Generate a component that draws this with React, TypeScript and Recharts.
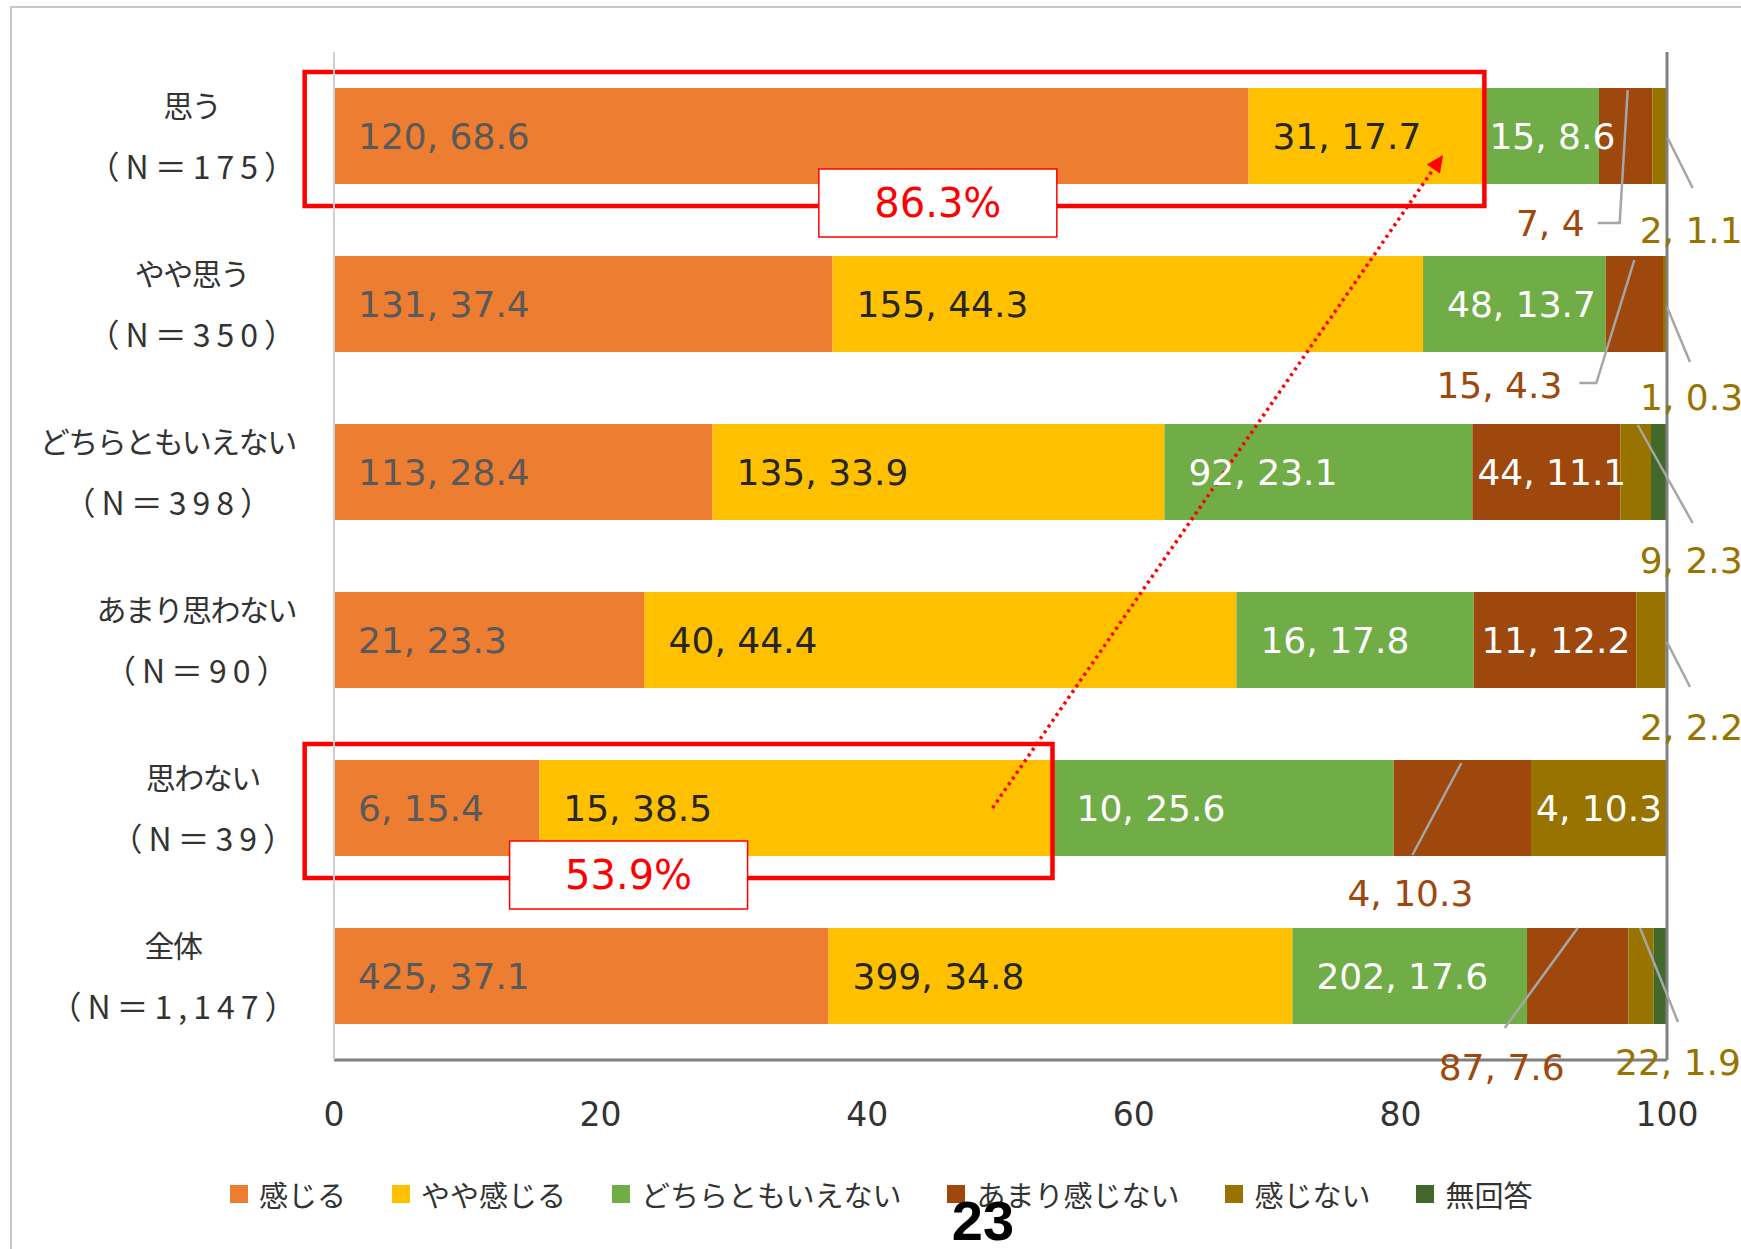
import React from 'react';
import { BarChart, Bar, XAxis, YAxis, LabelList, ReferenceLine, Legend } from 'recharts';

// ---------- data ----------
const categories = ['思う', 'やや思う', 'どちらともいえない', 'あまり思わない', '思わない', '全体'];
const sampleSizes = ['175', '350', '398', '90', '39', '1,147'];
const seriesNames = ['感じる', 'やや感じる', 'どちらともいえない', 'あまり感じない', '感じない', '無回答'];

const pctKanjiru = [68.6, 37.4, 28.4, 23.3, 15.4, 37.1];
const cntKanjiru = [120, 131, 113, 21, 6, 425];
const pctYaya = [17.7, 44.3, 33.9, 44.4, 38.5, 34.8];
const cntYaya = [31, 155, 135, 40, 15, 399];
const pctDochira = [8.6, 13.7, 23.1, 17.8, 25.6, 17.6];
const cntDochira = [15, 48, 92, 16, 10, 202];
const pctAmari = [4, 4.3, 11.1, 12.2, 10.3, 7.6];
const cntAmari = [7, 15, 44, 11, 4, 87];
const pctNai = [1.1, 0.3, 2.3, 2.2, 10.3, 1.9];
const cntNai = [2, 1, 9, 2, 4, 22];
const pctMukaito = [0, 0, 1.2, 0, 0, 1.0];
const cntMukaito = [0, 0, 5, 0, 0, 12];

const xTicks = [0, 20, 40, 60, 80, 100];

// highlighted groups (share of 感じる + やや感じる)
const highlightCats = ['思う', '思わない'];
const highlightTotals = [86.3, 53.9];
const highlightLabels = ['86.3%', '53.9%'];

// ---------- styles / layout ----------
const seriesColors = ['#ED7D31', '#FFC000', '#70AD47', '#9E480E', '#997300', '#43682B'];
const insideTextColors = ['#595959', '#262626', '#FFFFFF', '#FFFFFF', '#FFFFFF', '#FFFFFF'];
const NUM_FONT = '"DejaVu Sans", "Noto Sans CJK JP", sans-serif';
const JP_FONT = '"Noto Sans CJK JP", "DejaVu Sans", sans-serif';
const LABEL_FS = 36;

// outside (leader-line) label layout, offsets relative to the segment centre
const outsideLabels: Record<string, { dx: number; dy: number; anchor: string; line: number[][] }> = {
  '3-0': { dx: -41, dy: 87, anchor: 'end', line: [[2, -46], [-6, 87], [-28, 87]] },
  '4-0': { dx: -20, dy: 94, anchor: 'start', line: [[8, 2], [33, 52]] },
  '3-1': { dx: -72, dy: 81, anchor: 'end', line: [[0, -44], [-38, 79], [-55, 79]] },
  '4-1': { dx: -25, dy: 93, anchor: 'start', line: [[2, 3], [25, 58]] },
  '4-2': { dx: 4, dy: 88, anchor: 'start', line: [[2, -47], [57, 51]] },
  '4-3': { dx: -11, dy: 87, anchor: 'start', line: [[16, 2], [39, 47]] },
  '3-4': { dx: -52, dy: 85, anchor: 'middle', line: [[-1, -45], [-50, 47]] },
  '3-5': { dx: -76, dy: 91, anchor: 'middle', line: [[0, -48], [-73, 52]] },
  '4-5': { dx: -26, dy: 86, anchor: 'start', line: [[-1, -48], [37, 46]] },
};

const pctSeries = [pctKanjiru, pctYaya, pctDochira, pctAmari, pctNai, pctMukaito];
const cntSeries = [cntKanjiru, cntYaya, cntDochira, cntAmari, cntNai, cntMukaito];

const data = categories.map((name, i) => {
  const row: any = { name };
  pctSeries.forEach((arr, s) => {
    row['s' + s] = arr[i];
  });
  return row;
});

const estWidth = (str: string, fs: number, digit = 0.636, n = 0.748, spacing = 0) =>
  [...str].reduce((w, ch) => {
    const c = ch.charCodeAt(0);
    if (c >= 0x2e80) return w + fs + spacing;
    if (ch >= '0' && ch <= '9') return w + digit * fs + spacing;
    if (ch === 'N') return w + n * fs + spacing;
    return w + 0.3 * fs + spacing;
  }, 0);

const makeLabel = (s: number) => (props: any) => {
  const vb = props.viewBox || props;
  const x = Number(vb.x);
  const y = Number(vb.y);
  const width = Number(vb.width);
  const height = Number(vb.height);
  const i = props.index;
  if (i == null) return null;
  const pct = pctSeries[s][i];
  const cnt = cntSeries[s][i];
  if (!pct) return null;
  const text = `${cnt}, ${pct}`;
  const cx = x + width / 2;
  const cy = y + height / 2;
  const out = outsideLabels[`${s}-${i}`];
  if (out) {
    const pts = out.line.map(([dx, dy]) => `${cx + dx},${cy + dy}`).join(' ');
    return (
      <g>
        <polyline points={pts} fill="none" stroke="#A6A6A6" strokeWidth={2.5} />
        <text
          x={cx + out.dx}
          y={cy + out.dy}
          dy="0.36em"
          textAnchor={out.anchor as any}
          fill={seriesColors[s]}
          fontSize={LABEL_FS}
          fontFamily={NUM_FONT}
        >
          {text}
        </text>
      </g>
    );
  }
  const tw = estWidth(text, LABEL_FS);
  const pad = Math.min(24, Math.max(5, width - tw - 8));
  return (
    <text
      x={x + pad}
      y={cy}
      dy="0.36em"
      textAnchor="start"
      fill={insideTextColors[s]}
      fontSize={LABEL_FS}
      fontFamily={NUM_FONT}
    >
      {text}
    </text>
  );
};

const YTick = (props: any) => {
  const { x, y, payload } = props;
  const i = categories.indexOf(payload.value);
  const l1 = payload.value;
  const l2 = `（N＝${sampleSizes[i]}）`;
  const w1 = estWidth(l1, 30, 0.6, 0.7, -1.5);
  const w2 = estWidth(l2, 32, 0.5, 0.7, 6) - 24;
  const w = Math.max(w1, w2);
  const rightGap = w1 > w2 ? 36 : 48;
  const cx = x - rightGap - w / 2;
  return (
    <g>
      <text
        x={cx}
        y={y - 30}
        dy="0.36em"
        textAnchor="middle"
        fill="#333333"
        fontSize={30}
        letterSpacing={-1.5}
        fontFamily={JP_FONT}
      >
        {l1}
      </text>
      <text
        x={cx + 3}
        y={y + 31}
        dy="0.36em"
        textAnchor="middle"
        fill="#333333"
        fontSize={32}
        letterSpacing={6}
        fontFamily={JP_FONT}
      >
        {l2}
      </text>
    </g>
  );
};

const XTick = (props: any) => {
  const { x, y, payload } = props;
  return (
    <text x={x} y={y + 52} dy="0.36em" textAnchor="middle" fill="#333333" fontSize={33} fontFamily={NUM_FONT}>
      {payload.value}
    </text>
  );
};

const LegendContent = () => (
  <div style={{ display: 'flex', alignItems: 'center', whiteSpace: 'nowrap' }}>
    {seriesNames.map((n, i) => (
      <div key={n} style={{ display: 'flex', alignItems: 'center', marginRight: 46 }}>
        <div style={{ width: 18, height: 18, background: seriesColors[i], marginRight: 11 }} />
        <span style={{ fontFamily: JP_FONT, fontSize: 29, color: '#333333', lineHeight: '42px' }}>{n}</span>
      </div>
    ))}
  </div>
);

const HighlightRect = (p: any) => (
  <rect
    x={p.x1}
    y={p.y1 - 64}
    width={p.x2 - p.x1}
    height={134}
    fill="none"
    stroke="#FF0000"
    strokeWidth={4.5}
  />
);

const makeHighlightBox = (label: string) => (p: any) => (
  <g>
    <rect x={p.x1 - 119} y={p.y1 + 33} width={238} height={68} fill="#FFFFFF" stroke="#FF0000" strokeWidth={1.5} />
    <text x={p.x1} y={p.y1 + 67} dy="0.36em" textAnchor="middle" fill="#FF0000" fontSize={40} fontFamily={NUM_FONT}>
      {label}
    </text>
  </g>
);

const ArrowShape = (p: any) => {
  const x1 = p.x1;
  const y1 = p.y1;
  const x2 = p.x2;
  const y2 = p.y2 + 19;
  const ang = Math.atan2(y2 - y1, x2 - x1);
  const hl = 17;
  const hw = 8;
  const bx = x2 - hl * Math.cos(ang);
  const by = y2 - hl * Math.sin(ang);
  const nx = -Math.sin(ang);
  const ny = Math.cos(ang);
  return (
    <g>
      <line x1={x1} y1={y1} x2={bx} y2={by} stroke="#FF0000" strokeWidth={3.5} strokeDasharray="3 4" />
      <polygon
        points={`${x2},${y2} ${bx + nx * hw},${by + ny * hw} ${bx - nx * hw},${by - ny * hw}`}
        fill="#FF0000"
      />
    </g>
  );
};

// annotation anchor values (x-axis units)
const highlightLeft = -2.2;
const highlightBoxCenters = [45.3, 22.1];
const arrowFrom = 49.4;
const arrowTo = 83.2;

export default function App() {
  return (
    <div style={{ position: 'relative', width: 1741, height: 1249, overflow: 'hidden', background: '#fff' }}>
      <style>{`body{margin:0;}`}</style>
      <div
        style={{
          position: 'absolute',
          left: 10,
          top: 6,
          width: 1800,
          height: 1300,
          border: '2px solid #C8C8C8',
          boxSizing: 'border-box',
        }}
      />
      <div style={{ position: 'absolute', left: 0, top: 0 }}>
        <BarChart
          width={1741}
          height={1249}
          data={data}
          layout="vertical"
          margin={{ top: 52, right: 74, bottom: 109, left: 0 }}
          barSize={96}
        >
          <XAxis
            type="number"
            domain={[0, 100]}
            ticks={xTicks}
            allowDataOverflow
            axisLine={{ stroke: '#808080', strokeWidth: 3 }}
            tickLine={false}
            tickSize={0}
            tick={<XTick />}
            height={80}
          />
          <XAxis
            xAxisId="top"
            orientation="top"
            type="number"
            domain={[0, 100]}
            allowDataOverflow
            axisLine={{ stroke: '#808080', strokeWidth: 2.5 }}
            tickLine={false}
            tick={false}
            height={0}
          />
          <YAxis
            type="category"
            dataKey="name"
            width={334}
            axisLine={{ stroke: '#D0D0D0', strokeWidth: 2 }}
            tickLine={false}
            tickSize={0}
            tick={<YTick />}
          />
          {seriesNames.map((n, s) => (
            <Bar key={n} dataKey={'s' + s} name={n} stackId="a" fill={seriesColors[s]} isAnimationActive={false}>
              {s < 5 ? <LabelList dataKey={'s' + s} content={makeLabel(s)} /> : null}
            </Bar>
          ))}
          <ReferenceLine x={100} stroke="#808080" strokeWidth={3} />
          {highlightCats.map((c, k) => (
            <ReferenceLine
              key={'hl' + c}
              ifOverflow="visible"
              segment={[
                { x: highlightLeft, y: c },
                { x: highlightTotals[k], y: c },
              ]}
              shape={HighlightRect}
            />
          ))}
          <ReferenceLine
            ifOverflow="visible"
            segment={[
              { x: arrowFrom, y: highlightCats[1] },
              { x: arrowTo, y: highlightCats[0] },
            ]}
            shape={ArrowShape}
          />
          {highlightCats.map((c, k) => (
            <ReferenceLine
              key={'hb' + c}
              ifOverflow="visible"
              segment={[
                { x: highlightBoxCenters[k], y: c },
                { x: highlightBoxCenters[k], y: c },
              ]}
              shape={makeHighlightBox(highlightLabels[k])}
            />
          ))}
          <Legend
            layout="horizontal"
            verticalAlign="middle"
            align="center"
            content={<LegendContent />}
            wrapperStyle={{ position: 'absolute', left: 230, top: 1173, width: 'auto' }}
          />
        </BarChart>
      </div>
      <div
        style={{
          position: 'absolute',
          left: 983,
          top: 1193,
          transform: 'translateX(-50%)',
          fontFamily: '"Liberation Sans", Arial, sans-serif',
          fontWeight: 700,
          fontSize: 56,
          lineHeight: '56px',
          color: '#000',
        }}
      >
        23
      </div>
    </div>
  );
}
